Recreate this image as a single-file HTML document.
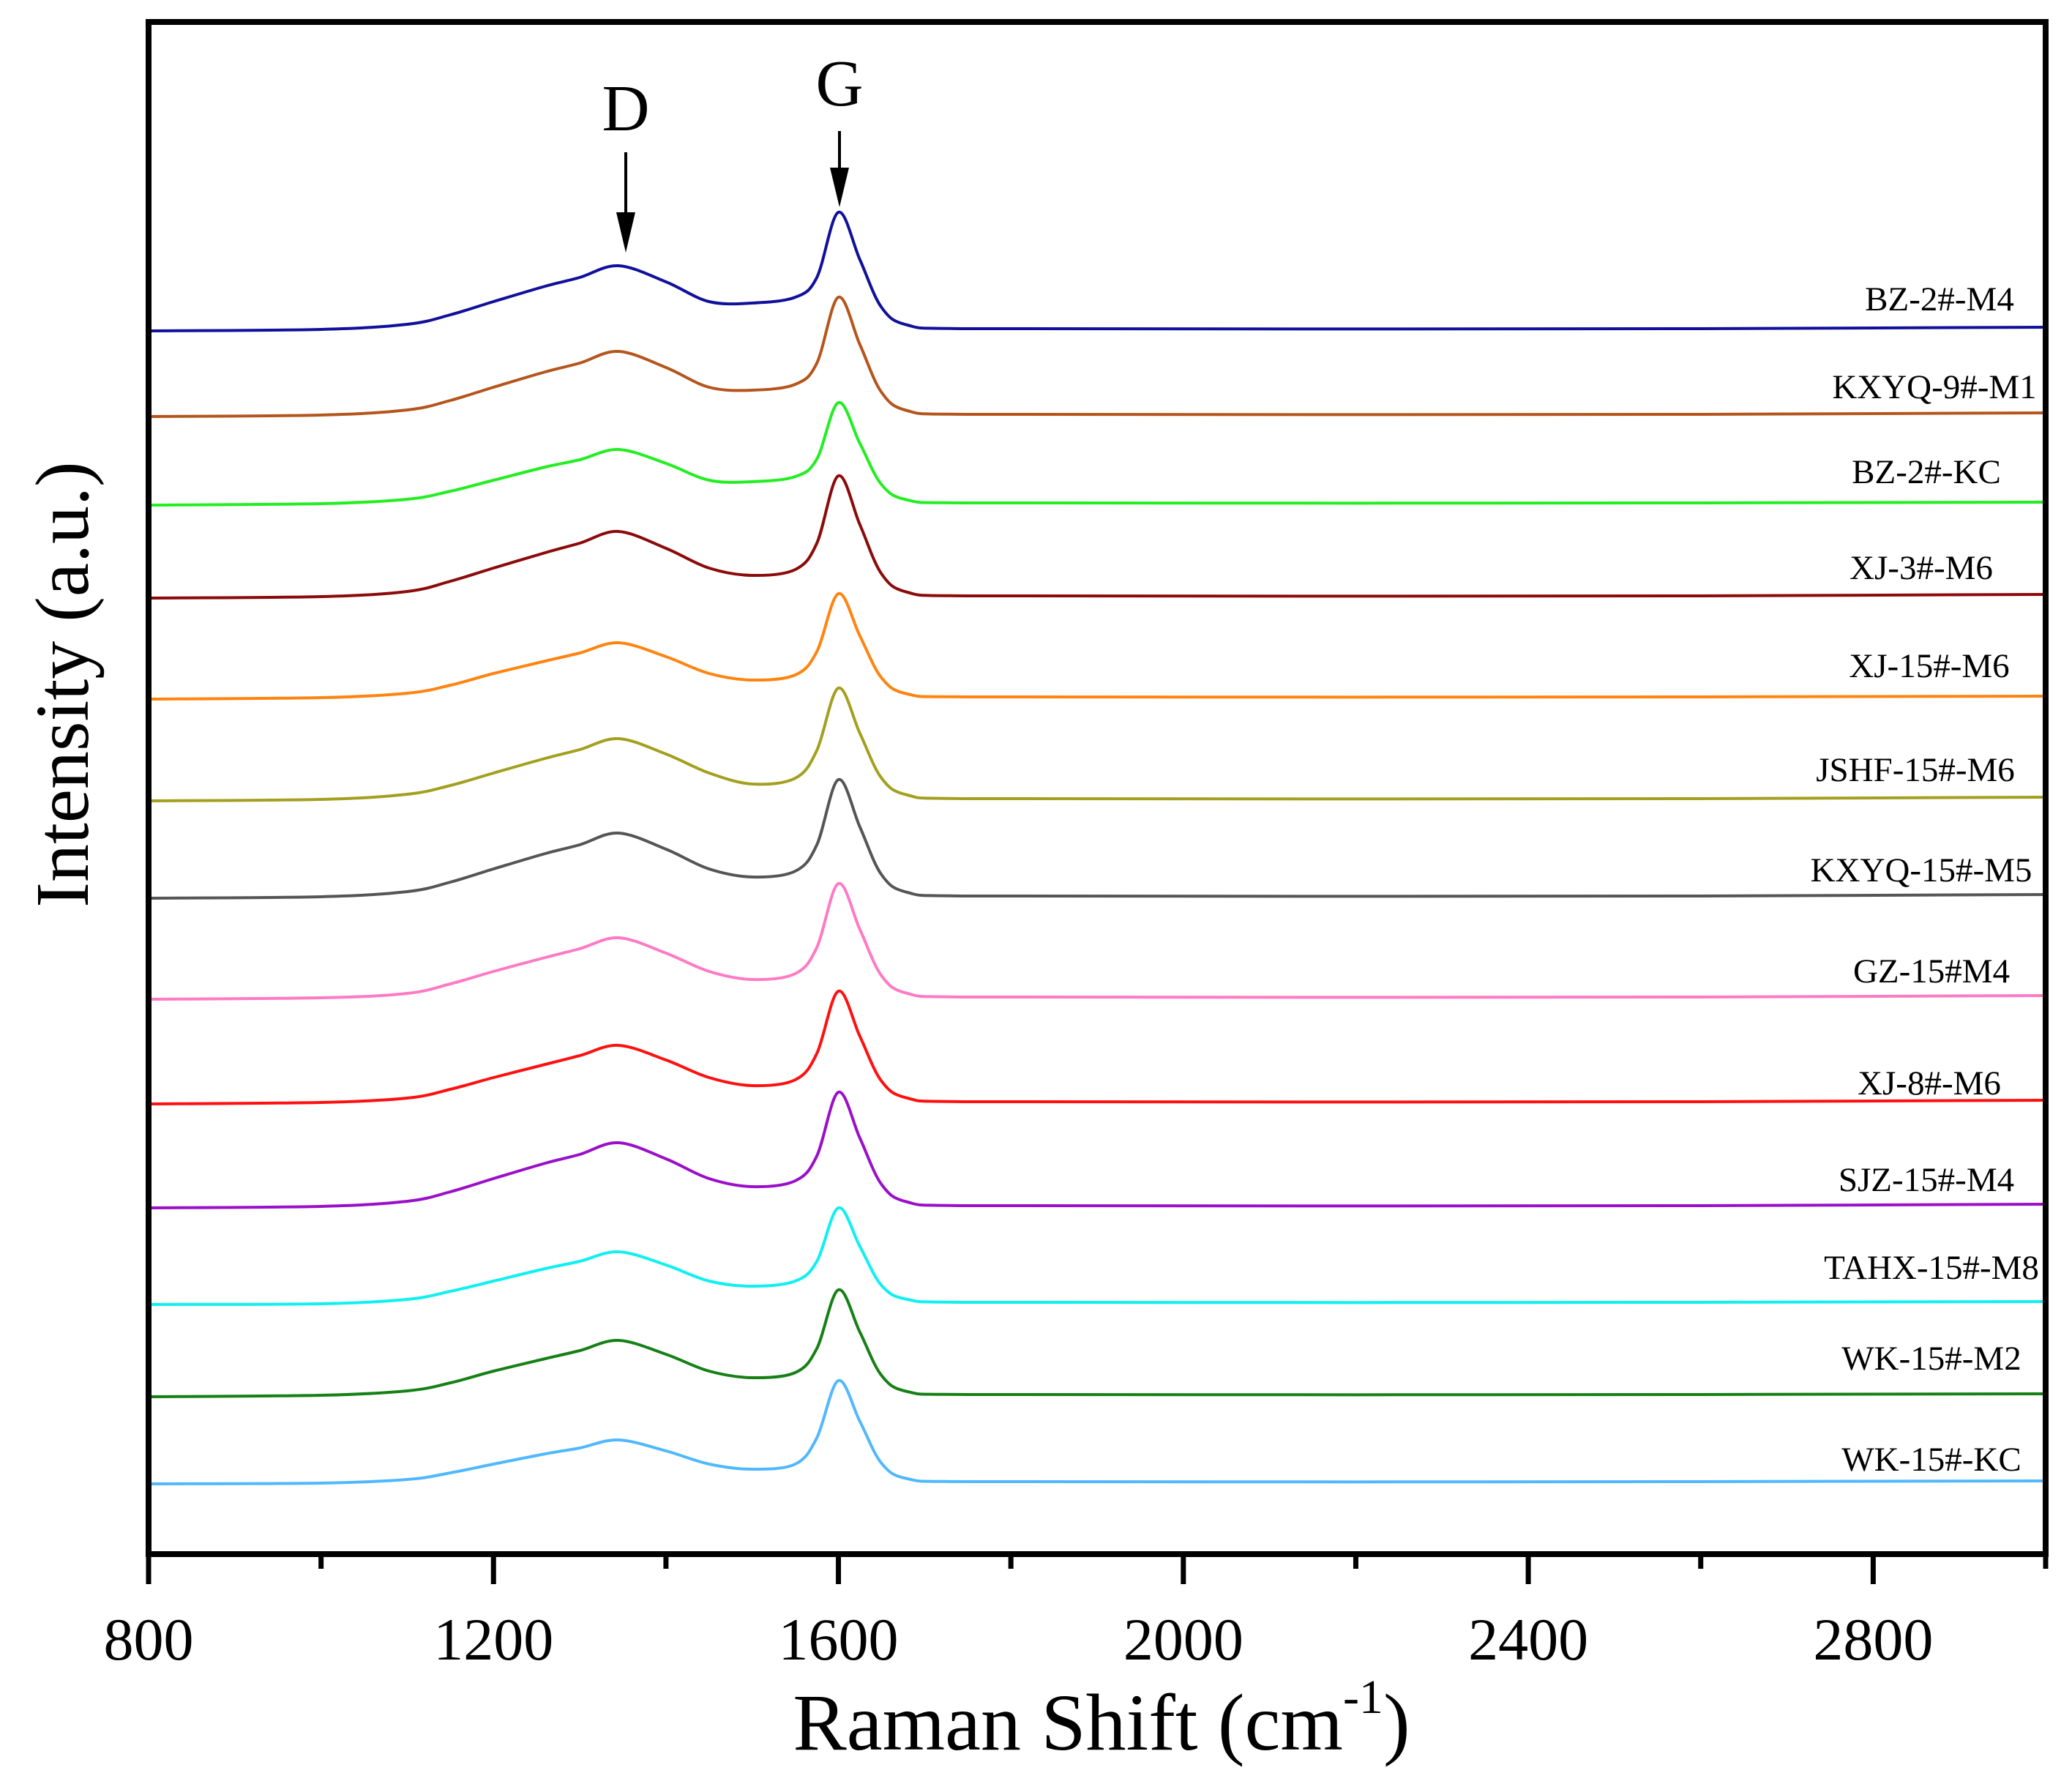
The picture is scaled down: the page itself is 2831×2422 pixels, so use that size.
<!DOCTYPE html>
<html><head><meta charset="utf-8"><style>
html,body{margin:0;padding:0;background:#fff;}
svg{display:block;font-family:"Liberation Serif",serif;}
</style></head><body>
<svg id="chart" width="2831" height="2422" viewBox="0 0 2831 2422" xmlns="http://www.w3.org/2000/svg">
<g id="series-layer"></g>
<g id="axis-layer"></g>
<g id="annot">
  <text x="855" y="178" font-size="90" text-anchor="middle">D</text>
  <line x1="855" y1="208" x2="855" y2="295" stroke="#000" stroke-width="4"/>
  <polygon points="842,290 868,290 855,345" fill="#000"/>
  <text x="1147" y="144" font-size="90" text-anchor="middle">G</text>
  <line x1="1147" y1="179" x2="1147" y2="234" stroke="#000" stroke-width="4"/>
  <polygon points="1134,229 1160,229 1147,283" fill="#000"/>
</g>
<text transform="translate(120,935) rotate(-90)" font-size="104" text-anchor="middle">Intensity (a.u.)</text>
<text x="1505" y="2390" font-size="110" text-anchor="middle">Raman Shift (cm<tspan dy="-50" font-size="66">-1</tspan><tspan dy="50">)</tspan></text>
</svg>
<script>
const xKnots = [800,1000,1100,1150,1200,1260,1300,1345,1400,1450,1500,1550,1575,1600,1625,1650,1680,1750,2600,3000];
const seriesNames = ["BZ-2#-M4","KXYQ-9#-M1","BZ-2#-KC","XJ-3#-M6","XJ-15#-M6","JSHF-15#-M6","KXYQ-15#-M5","GZ-15#M4","XJ-8#-M6","SJZ-15#-M4","TAHX-15#-M8","WK-15#-M2","WK-15#-KC"];
const seriesColors = ["#10109a","#b4561c","#22ee22","#8b0a0a","#ff8410","#a3a020","#555555","#ff7ac4","#ff1010","#9a10c8","#10f0f0","#168016","#50b8ff"];
const baselines = [1671,1554,1433,1306,1168,1029,896,758,615,473,341,215,96];
const s1 = [0,2,9,22,40,61,73,89,67,40,38,46,73,162,97,32,8,3,3,5];
const s2 = [0,2,9,22,40,61,73,89,67,40,36,44,73,163,98,33,8,3,3,5];
const s3 = [0,2,8,19,34,52,62,76,57,34,32,39,63,140,84,28,7,3,3,4];
const s4 = [0,2,9,23,41,62,75,91,68,41,31,39,75,167,100,33,8,3,3,5];
const s5 = [0,2,8,19,35,52,63,77,58,35,26,33,65,144,86,29,7,3,3,4];
const s6 = [0,2,9,21,38,58,70,85,64,38,23,31,69,154,92,31,8,3,3,5];
const s7 = [0,2,9,22,40,61,73,89,67,40,29,37,73,162,97,32,8,3,3,5];
const s8 = [0,2,8,21,38,57,69,84,63,38,27,35,71,158,95,32,8,3,3,5];
const s9 = [0,2,8,20,36,54,66,80,60,36,25,33,69,154,92,31,8,3,3,5];
const s10 = [0,2,9,22,40,61,73,89,67,40,29,37,71,158,95,32,8,3,3,5];
const s11 = [0,1,7,18,32,49,59,72,54,32,25,32,59,132,79,26,7,3,3,4];
const s12 = [0,2,8,19,35,52,63,77,58,35,26,33,66,146,88,29,7,3,3,4];
const s13 = [0,1,6,15,27,41,49,60,45,27,20,27,63,141,85,28,7,3,3,4];
const seriesRel = [s1,s2,s3,s4,s5,s6,s7,s8,s9,s10,s11,s12,s13];
const labelX = [2650,2643,2632,2625,2636,2617,2625,2639,2636,2632,2639,2639,2639];
const labelBase = [424,544,660,791,925,1067,1204,1342,1495,1627,1747,1871,2009];
const xTicksMajor = [800,1200,1600,2000,2400,2800];
const xTicksMinor = [1000,1400,1800,2200,2600,3000];

const NS="http://www.w3.org/2000/svg";
const L=203,R=2795,T=30,B=2123;
const X=v=>L+(v-800)/(3000-800)*(R-L);
const Y=v=>B-v/2093*(B-T);
const sl=document.getElementById('series-layer');
const al=document.getElementById('axis-layer');
function mk(tag,attrs,parent){const e=document.createElementNS(NS,tag);for(const k in attrs)e.setAttribute(k,attrs[k]);parent.appendChild(e);return e;}
function pathFrom(pts){
  let d="M"+pts[0][0].toFixed(1)+","+pts[0][1].toFixed(1);
  for(let i=0;i<pts.length-1;i++){
    const p0=pts[Math.max(i-1,0)],p1=pts[i],p2=pts[i+1],p3=pts[Math.min(i+2,pts.length-1)];
    const t=6;
    let c1x=p1[0]+(p2[0]-p0[0])/t,c1y=p1[1]+(p2[1]-p0[1])/t;
    let c2x=p2[0]-(p3[0]-p1[0])/t,c2y=p2[1]-(p3[1]-p1[1])/t;
    c1x=Math.min(Math.max(c1x,p1[0]),p2[0]);c2x=Math.min(Math.max(c2x,p1[0]),p2[0]);
    d+=" C"+c1x.toFixed(1)+","+c1y.toFixed(1)+" "+c2x.toFixed(1)+","+c2y.toFixed(1)+" "+p2[0].toFixed(1)+","+p2[1].toFixed(1);
  }
  return d;
}
seriesRel.forEach((rel,i)=>{
  const pts=xKnots.map((x,j)=>[X(x),Y(baselines[i]+rel[j])]);
  const p=mk('path',{d:pathFrom(pts),fill:'none',stroke:seriesColors[i],'stroke-width':4,'stroke-linejoin':'round'},sl);
  
  
  const t=mk('text',{x:labelX[i],y:labelBase[i],'font-size':47,'text-anchor':'middle',fill:'#000'},sl);
  t.textContent=seriesNames[i];
  
  
});
const frame=mk('rect',{x:L,y:T,width:R-L,height:B-T,fill:'none',stroke:'#000','stroke-width':8},al);


xTicksMajor.forEach(v=>{
  const l=mk('line',{x1:X(v),x2:X(v),y1:B,y2:B+41,stroke:'#000','stroke-width':7},al);
  
  
  const t=mk('text',{x:X(v),y:2267,'font-size':82,'text-anchor':'middle'},al);
  t.textContent=String(v);
  
  
});
xTicksMinor.forEach(v=>{
  const l=mk('line',{x1:X(v),x2:X(v),y1:B,y2:B+20,stroke:'#000','stroke-width':7},al);
  
  
});
</script>
</body></html>
